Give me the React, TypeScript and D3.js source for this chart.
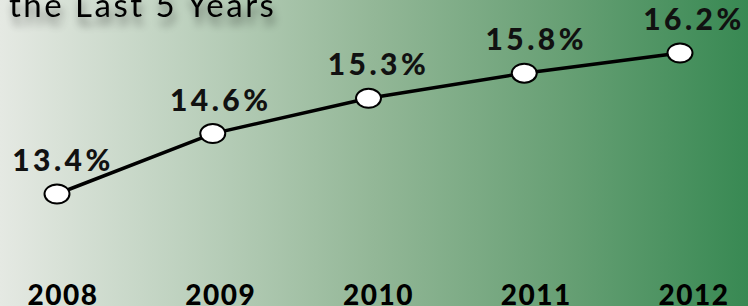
import React from "react";
import * as d3 from "d3";

const years = ["2008", "2009", "2010", "2011", "2012"];
const rates = [13.4, 14.6, 15.3, 15.8, 16.2];
const rateLabels = ["13.4%", "14.6%", "15.3%", "15.8%", "16.2%"];
const titleText = "the Last 5 Years";

const W = 748;
const H = 306;

export default function App() {
  const xPoint = d3.scalePoint<string>().domain(years).range([57, 680]);
  const xLabel = d3.scalePoint<string>().domain(years).range([63, 694]);
  const y = d3.scaleLinear().domain([13.4, 16.2]).range([194, 53]);
  const line = d3
    .line<number>()
    .x((_, i) => xPoint(years[i]) as number)
    .y((d) => y(d));
  const font = "Lato, 'DejaVu Sans', sans-serif";

  return (
    <svg
      width={W}
      height={H}
      style={{ position: "absolute", left: 0, top: 0, display: "block" }}
    >
      <defs>
        <linearGradient id="bg" x1="0" x2="1" y1="0" y2="0">
          <stop offset="0" stopColor="#e5e9e3" />
          <stop offset="0.25" stopColor="#bdd1be" />
          <stop offset="0.5" stopColor="#93b797" />
          <stop offset="0.75" stopColor="#68a075" />
          <stop offset="1" stopColor="#388953" />
        </linearGradient>
        <filter id="tshadow" x="-10%" y="-50%" width="120%" height="250%">
          <feGaussianBlur in="SourceAlpha" stdDeviation="4" />
          <feOffset dx="2" dy="8" result="b" />
          <feComponentTransfer>
            <feFuncA type="linear" slope="0.45" />
          </feComponentTransfer>
          <feMerge>
            <feMergeNode />
            <feMergeNode in="SourceGraphic" />
          </feMerge>
        </filter>
      </defs>
      <rect x={0} y={0} width={W} height={H} fill="url(#bg)" />
      <text
        x={9}
        y={17}
        fontFamily={font}
        fontSize={33}
        letterSpacing={2.5}
        fill="#000"
        filter="url(#tshadow)"
      >
        {titleText}
      </text>
      <path d={line(rates) || ""} fill="none" stroke="#000" strokeWidth={3.5} />
      {rates.map((v, i) => (
        <ellipse
          key={"p" + i}
          cx={xPoint(years[i])}
          cy={y(v)}
          rx={12.5}
          ry={9.5}
          fill="#fff"
          stroke="#000"
          strokeWidth={2}
        />
      ))}
      {rates.map((v, i) => (
        <text
          key={"l" + i}
          x={xLabel(years[i])}
          y={y(v) - 23}
          textAnchor="middle"
          fontFamily={font}
          fontWeight={900}
          fontSize={30}
          letterSpacing={3.5}
          fill="#111"
        >
          {rateLabels[i]}
        </text>
      ))}
      {years.map((yr) => (
        <text
          key={"y" + yr}
          x={xLabel(yr)}
          y={305}
          textAnchor="middle"
          fontFamily={font}
          fontWeight={900}
          fontSize={28}
          letterSpacing={1.5}
          fill="#000"
        >
          {yr}
        </text>
      ))}
    </svg>
  );
}
